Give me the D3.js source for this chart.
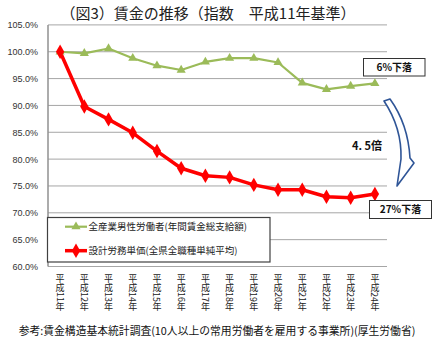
<!DOCTYPE html>
<html lang="ja">
<head>
<meta charset="utf-8" />
<title>賃金の推移</title>
<style>
  html,body{margin:0;padding:0;background:#fff;}
  body{width:436px;height:362px;overflow:hidden;font-family:"Noto Sans CJK JP","Noto Sans",sans-serif;}
  svg{display:block;}
  .tick-y{font-size:9px;fill:#333;}
  .xlab{font-size:9px;fill:#222;}
</style>
</head>
<body>
<svg id="chart" width="436" height="362"></svg>
<script src="https://d3js.org/d3.v7.min.js"></script>
<script>
// ---- data (index, 平成11年 = 100) ----
const years = ['平成11年','平成12年','平成13年','平成14年','平成15年','平成16年','平成17年',
               '平成18年','平成19年','平成20年','平成21年','平成22年','平成23年','平成24年'];
const maleWorkers = [100.0, 99.7, 100.6, 98.8, 97.4, 96.6, 98.1, 98.8, 98.8, 98.0, 94.2, 93.0, 93.6, 94.1];
const laborUnitPrice = [100.0, 89.8, 87.4, 84.9, 81.5, 78.3, 76.9, 76.6, 75.2, 74.3, 74.3, 73.0, 72.8, 73.5];
const yTicks = [60, 65, 70, 75, 80, 85, 90, 95, 100, 105];
const seriesNames = ['全産業男性労働者(年間賃金総支給額)', '設計労務単価(全県全職種単純平均)'];

const svg = d3.select('#chart');
const plot = {left:48, right:387, top:24.9, bottom:266.5};

const x = d3.scaleBand().domain(years).range([plot.left, plot.right]);
const cx = d => x(d) + x.bandwidth()/2;
const y = d3.scaleLinear().domain([60,105]).range([plot.bottom, plot.top]);

// title
svg.append('text').attr('x',208).attr('y',19).attr('text-anchor','middle')
  .style('font-size','15px').style('fill','#222')
  .text('（図3）賃金の推移（指数　平成11年基準）');

// gridlines
svg.append('g').selectAll('line').data(yTicks).join('line')
  .attr('x1',plot.left).attr('x2',plot.right)
  .attr('y1',d=>y(d)).attr('y2',d=>y(d))
  .attr('stroke','#a6a6a6').attr('stroke-width',1);

// y axis
const yAxis = svg.append('g').attr('transform',`translate(${plot.left},0)`)
  .call(d3.axisLeft(y).tickValues(yTicks).tickSize(0).tickPadding(10).tickFormat(d=>d.toFixed(1)+'%'));
yAxis.select('.domain').remove();
yAxis.selectAll('text').attr('class','tick-y').attr('font-family',null).attr('font-size',null);
svg.append('line').attr('x1',plot.left).attr('x2',plot.left).attr('y1',plot.top).attr('y2',plot.bottom)
  .attr('stroke','#909090').attr('stroke-width',1.5);

// x labels (vertical)
svg.append('g').selectAll('text').data(years).join('text')
  .attr('class','xlab')
  .attr('x',d=>cx(d)).attr('y',274)
  .style('writing-mode','vertical-rl')
  .text(d=>d);

// lines
const line = data => d3.line().x((d,i)=>cx(years[i])).y(d=>y(d))(data);
svg.append('path').attr('d',line(maleWorkers)).attr('fill','none')
  .attr('stroke','#9bbb59').attr('stroke-width',2.2).attr('stroke-linejoin','round');
svg.append('path').attr('d',line(laborUnitPrice)).attr('fill','none')
  .attr('stroke','#ff0000').attr('stroke-width',3.5).attr('stroke-linejoin','round');

const tri = d3.symbol().type(d3.symbolTriangle).size(36);
const dia = d3.symbol().type(d3.symbolDiamond).size(60);
svg.append('g').selectAll('path').data(maleWorkers).join('path')
  .attr('d',tri).attr('fill','#9bbb59')
  .attr('transform',(d,i)=>`translate(${cx(years[i])},${y(d)})`);
svg.append('g').selectAll('path').data(laborUnitPrice).join('path')
  .attr('d',dia).attr('fill','#ff0000')
  .attr('transform',(d,i)=>`translate(${cx(years[i])},${y(d)})`);

// legend
const lg = svg.append('g');
lg.append('rect').attr('x',47.5).attr('y',217.5).attr('width',222.5).attr('height',44.5)
  .attr('fill','#fff').attr('stroke','#404040').attr('stroke-width',1.2);
const legendItems = [
  {name:seriesNames[0], color:'#9bbb59', w:2.2, sym:tri, y:226.7},
  {name:seriesNames[1], color:'#ff0000', w:3.5, sym:dia, y:250.7}
];
legendItems.forEach(it=>{
  lg.append('line').attr('x1',65).attr('x2',87).attr('y1',it.y).attr('y2',it.y)
    .attr('stroke',it.color).attr('stroke-width',it.w);
  lg.append('path').attr('d',it.sym).attr('fill',it.color).attr('transform',`translate(76,${it.y})`);
  lg.append('text').attr('x',88.5).attr('y',it.y+3.3).style('font-size','9.5px').style('fill','#222').text(it.name);
});

// annotations
function labelBox(x0,y0,w,h,txt){
  svg.append('rect').attr('x',x0).attr('y',y0).attr('width',w).attr('height',h)
    .attr('fill','#fff').attr('stroke','#333').attr('stroke-width',1);
  svg.append('text').attr('x',x0+w/2).attr('y',y0+h/2+3.6).attr('text-anchor','middle')
    .style('font-size','10px').style('font-weight','bold').style('fill','#111').text(txt);
}
labelBox(363.5,58.5,61.5,17.5,'6%下落');
labelBox(369.5,200.5,62,18,'27%下落');

svg.append('text').attr('x',352).attr('y',150).style('font-size','11px').style('font-weight','bold')
  .style('fill','#111').text('4. 5倍');

// curved block arrow
svg.append('path')
  .attr('d','M384,101 L390,99 Q408,124 410,158 L414,163 L397,186 L401,159 Q402,128 384,101 Z')
  .attr('fill','#fff').attr('stroke','#2f5597').attr('stroke-width',1.6).attr('stroke-linejoin','round');

// source note
svg.append('text').attr('x',217).attr('y',335).attr('text-anchor','middle')
  .style('font-size','10.8px').style('fill','#111')
  .text('参考:賃金構造基本統計調査(10人以上の常用労働者を雇用する事業所)(厚生労働省)');
</script>
</body>
</html>
